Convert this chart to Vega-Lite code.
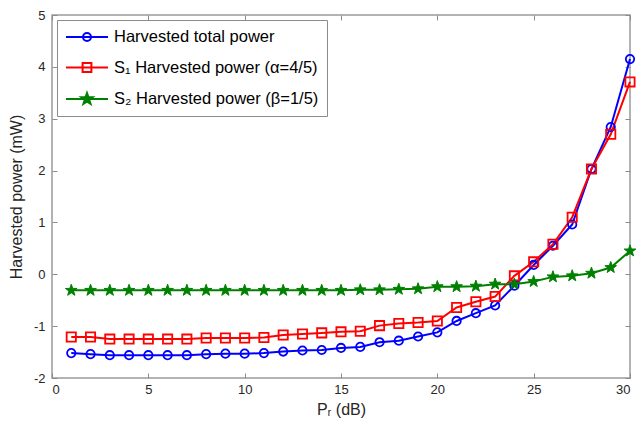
{
  "$schema": "https://vega.github.io/schema/vega-lite/v6.json",
  "width": 578,
  "height": 363,
  "autosize": {"type": "none"},
  "padding": {"left": 52, "top": 15, "right": 7, "bottom": 48},
  "background": "white",
  "data": {
    "values": [
      {"x": 1, "y": -1.52, "s": "total"}, {"x": 2, "y": -1.54, "s": "total"}, {"x": 3, "y": -1.56, "s": "total"},
      {"x": 4, "y": -1.56, "s": "total"}, {"x": 5, "y": -1.56, "s": "total"}, {"x": 6, "y": -1.56, "s": "total"},
      {"x": 7, "y": -1.56, "s": "total"}, {"x": 8, "y": -1.54, "s": "total"}, {"x": 9, "y": -1.53, "s": "total"},
      {"x": 10, "y": -1.53, "s": "total"}, {"x": 11, "y": -1.52, "s": "total"}, {"x": 12, "y": -1.49, "s": "total"},
      {"x": 13, "y": -1.47, "s": "total"}, {"x": 14, "y": -1.46, "s": "total"}, {"x": 15, "y": -1.42, "s": "total"},
      {"x": 16, "y": -1.40, "s": "total"}, {"x": 17, "y": -1.31, "s": "total"}, {"x": 18, "y": -1.28, "s": "total"},
      {"x": 19, "y": -1.20, "s": "total"}, {"x": 20, "y": -1.12, "s": "total"}, {"x": 21, "y": -0.90, "s": "total"},
      {"x": 22, "y": -0.75, "s": "total"}, {"x": 23, "y": -0.60, "s": "total"}, {"x": 24, "y": -0.22, "s": "total"},
      {"x": 25, "y": 0.18, "s": "total"}, {"x": 26, "y": 0.55, "s": "total"}, {"x": 27, "y": 0.96, "s": "total"},
      {"x": 28, "y": 2.03, "s": "total"}, {"x": 29, "y": 2.84, "s": "total"}, {"x": 30, "y": 4.15, "s": "total"},
      {"x": 1, "y": -1.21, "s": "s1"}, {"x": 2, "y": -1.21, "s": "s1"}, {"x": 3, "y": -1.25, "s": "s1"},
      {"x": 4, "y": -1.25, "s": "s1"}, {"x": 5, "y": -1.25, "s": "s1"}, {"x": 6, "y": -1.25, "s": "s1"},
      {"x": 7, "y": -1.25, "s": "s1"}, {"x": 8, "y": -1.23, "s": "s1"}, {"x": 9, "y": -1.23, "s": "s1"},
      {"x": 10, "y": -1.23, "s": "s1"}, {"x": 11, "y": -1.22, "s": "s1"}, {"x": 12, "y": -1.17, "s": "s1"},
      {"x": 13, "y": -1.15, "s": "s1"}, {"x": 14, "y": -1.13, "s": "s1"}, {"x": 15, "y": -1.11, "s": "s1"},
      {"x": 16, "y": -1.10, "s": "s1"}, {"x": 17, "y": -0.99, "s": "s1"}, {"x": 18, "y": -0.95, "s": "s1"},
      {"x": 19, "y": -0.93, "s": "s1"}, {"x": 20, "y": -0.90, "s": "s1"}, {"x": 21, "y": -0.64, "s": "s1"},
      {"x": 22, "y": -0.53, "s": "s1"}, {"x": 23, "y": -0.43, "s": "s1"}, {"x": 24, "y": -0.03, "s": "s1"},
      {"x": 25, "y": 0.24, "s": "s1"}, {"x": 26, "y": 0.58, "s": "s1"}, {"x": 27, "y": 1.10, "s": "s1"},
      {"x": 28, "y": 2.03, "s": "s1"}, {"x": 29, "y": 2.70, "s": "s1"}, {"x": 30, "y": 3.71, "s": "s1"},
      {"x": 1, "y": -0.31, "s": "s2"}, {"x": 2, "y": -0.31, "s": "s2"}, {"x": 3, "y": -0.31, "s": "s2"},
      {"x": 4, "y": -0.31, "s": "s2"}, {"x": 5, "y": -0.31, "s": "s2"}, {"x": 6, "y": -0.31, "s": "s2"},
      {"x": 7, "y": -0.31, "s": "s2"}, {"x": 8, "y": -0.31, "s": "s2"}, {"x": 9, "y": -0.31, "s": "s2"},
      {"x": 10, "y": -0.31, "s": "s2"}, {"x": 11, "y": -0.31, "s": "s2"}, {"x": 12, "y": -0.31, "s": "s2"},
      {"x": 13, "y": -0.31, "s": "s2"}, {"x": 14, "y": -0.31, "s": "s2"}, {"x": 15, "y": -0.31, "s": "s2"},
      {"x": 16, "y": -0.30, "s": "s2"}, {"x": 17, "y": -0.30, "s": "s2"}, {"x": 18, "y": -0.29, "s": "s2"},
      {"x": 19, "y": -0.28, "s": "s2"}, {"x": 20, "y": -0.24, "s": "s2"}, {"x": 21, "y": -0.24, "s": "s2"},
      {"x": 22, "y": -0.23, "s": "s2"}, {"x": 23, "y": -0.19, "s": "s2"}, {"x": 24, "y": -0.19, "s": "s2"},
      {"x": 25, "y": -0.14, "s": "s2"}, {"x": 26, "y": -0.05, "s": "s2"}, {"x": 27, "y": -0.03, "s": "s2"},
      {"x": 28, "y": 0.02, "s": "s2"}, {"x": 29, "y": 0.13, "s": "s2"}, {"x": 30, "y": 0.45, "s": "s2"}
    ]
  },
  "layer": [
    {
      "layer": [
        {
          "mark": {"type": "line", "strokeWidth": 2},
          "encoding": {
            "x": {"field": "x", "type": "quantitative", "scale": {"domain": [0, 30], "nice": false},
                  "axis": {"orient": "bottom", "values": [0, 5, 10, 15, 20, 25, 30], "labelExpr": "'' + datum.value", "title": "Pᵣ (dB)", "titlePadding": 5}},
            "y": {"field": "y", "type": "quantitative", "scale": {"domain": [-2, 5], "nice": false},
                  "axis": {"orient": "left", "values": [-2, -1, 0, 1, 2, 3, 4, 5], "labelExpr": "'' + datum.value", "title": "Harvested power (mW)", "titlePadding": 9}},
            "color": {
              "field": "s", "type": "nominal",
              "scale": {"domain": ["total", "s1", "s2"], "range": ["#0000ff", "#ff0000", "#008000"]},
              "legend": {
                "title": null,
                "orient": "top-left",
                "offset": 5,
                "padding": 8,
                "fillColor": "white",
                "strokeColor": "#8c8c8c",
                "labelFont": "Liberation Sans",
                "labelFontSize": 16.5,
                "labelColor": "#000000",
                "labelOffset": 31,
                "labelLimit": 0,
                "rowPadding": 12.5,
                "symbolSize": 256,
                "symbolStrokeWidth": 2,
                "labelExpr": "datum.value === 'total' ? 'Harvested total power' : datum.value === 's1' ? 'S₁ Harvested power (α=4/5)' : 'S₂ Harvested power (β=1/5)'",
                "encode": {
                  "symbols": {
                    "update": {
                      "shape": {"signal": "datum.value === 'total' ? 'M-1,0H4.25M1.125,0A0.5,0.5 0 1,0 2.125,0A0.5,0.5 0 1,0 1.125,0' : datum.value === 's1' ? 'M-1,0H4.25M1.075,-0.55H2.175V0.55H1.075Z' : 'M-1,0H4.25M1.625,-0.75L1.801,-0.243L2.338,-0.232L1.91,0.093L2.066,0.607L1.625,0.3L1.184,0.607L1.34,0.093L0.912,-0.232L1.449,-0.243Z'"},
                      "fill": {"signal": "datum.value === 's2' ? '#008000' : 'transparent'"}
                    }
                  }
                }
              }
            }
          }
        },
        {
          "transform": [{"filter": "datum.s === 'total'"}],
          "mark": {"type": "point", "shape": "circle", "size": 70, "stroke": "#0000ff", "fill": "transparent", "strokeWidth": 1.8, "opacity": 1},
          "encoding": {
            "x": {"field": "x", "type": "quantitative"},
            "y": {"field": "y", "type": "quantitative"}
          }
        },
        {
          "transform": [{"filter": "datum.s === 's1'"}],
          "mark": {"type": "point", "shape": "square", "size": 85, "stroke": "#ff0000", "fill": "transparent", "strokeWidth": 1.8, "opacity": 1},
          "encoding": {
            "x": {"field": "x", "type": "quantitative"},
            "y": {"field": "y", "type": "quantitative"}
          }
        },
        {
          "transform": [{"filter": "datum.s === 's2'"}],
          "mark": {"type": "point", "shape": "M0,-1L0.235,-0.324L0.951,-0.309L0.38,0.124L0.588,0.809L0,0.4L-0.588,0.809L-0.38,0.124L-0.951,-0.309L-0.235,-0.324Z", "size": 150, "stroke": "#008000", "fill": "#008000", "strokeWidth": 1, "opacity": 1},
          "encoding": {
            "x": {"field": "x", "type": "quantitative"},
            "y": {"field": "y", "type": "quantitative"}
          }
        }
      ]
    },
    {
      "mark": {"type": "point", "opacity": 0},
      "encoding": {
        "x": {"field": "x", "type": "quantitative",
              "axis": {"orient": "top", "values": [0, 5, 10, 15, 20, 25, 30], "labels": false, "title": null}},
        "y": {"field": "y", "type": "quantitative",
              "axis": {"orient": "right", "values": [-2, -1, 0, 1, 2, 3, 4, 5], "labels": false, "title": null}}
      }
    }
  ],
  "resolve": {"axis": {"x": "independent", "y": "independent"}},
  "config": {
    "view": {"stroke": "#9a9a9a", "strokeWidth": 1.5},
    "axis": {
      "domain": false,
      "grid": false,
      "tickSize": -5,
      "tickColor": "#8c8c8c",
      "tickWidth": 1,
      "labelPadding": 10,
      "labelFont": "Liberation Sans",
      "labelFontSize": 13,
      "labelColor": "#262626",
      "titleFont": "Liberation Sans",
      "titleFontSize": 16,
      "titleFontWeight": "normal",
      "titleColor": "#262626"
    },
    "axisLeft": {"labelPadding": 12}
  }
}
